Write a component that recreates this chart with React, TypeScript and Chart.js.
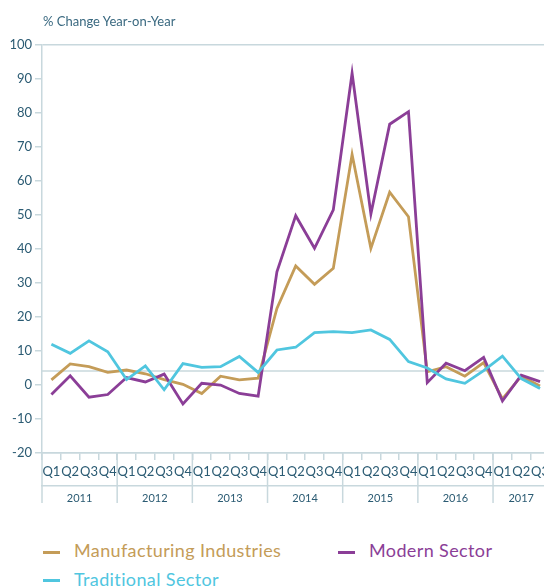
import React, { useEffect, useRef } from "react";
import { Chart, registerables } from "chart.js";

Chart.register(...registerables);

const QUARTERS = [
  "Q1", "Q2", "Q3", "Q4",
  "Q1", "Q2", "Q3", "Q4",
  "Q1", "Q2", "Q3", "Q4",
  "Q1", "Q2", "Q3", "Q4",
  "Q1", "Q2", "Q3", "Q4",
  "Q1", "Q2", "Q3", "Q4",
  "Q1", "Q2", "Q3",
];
const YEARS = ["2011", "2012", "2013", "2014", "2015", "2016", "2017"];
const YEAR_QUARTER_COUNTS = [4, 4, 4, 4, 4, 4, 3];

const MANUFACTURING = [1.5, 6.2, 5.4, 3.7, 4.4, 3.3, 1.6, 0.2, -2.5, 2.6, 1.5, 2.0, 22.5, 35.0, 29.6, 34.3, 67.8, 40.2, 56.7, 49.5, 3.9, 5.4, 2.6, 6.6, -4.1, 2.6, -0.3];
const MODERN = [-2.8, 2.7, -3.6, -2.8, 2.2, 0.9, 3.2, -5.6, 0.5, 0.0, -2.5, -3.3, 33.3, 49.8, 40.2, 51.5, 91.7, 50.3, 76.7, 80.4, 0.7, 6.4, 4.2, 8.1, -4.7, 2.9, 1.0];
const TRADITIONAL = [12.0, 9.3, 13.0, 9.8, 1.6, 5.6, -1.4, 6.3, 5.2, 5.4, 8.4, 3.7, 10.3, 11.1, 15.4, 15.7, 15.4, 16.2, 13.4, 6.9, 5.0, 1.8, 0.5, 4.2, 8.5, 1.9, -1.0];

const REFERENCE_LEVEL = 4.1;
const Y_MIN = -20;
const Y_MAX = 100;
const Y_STEP = 10;

const TITLE = "% Change Year-on-Year";
const SERIES_NAMES = ["Manufacturing Industries", "Modern Sector", "Traditional Sector"];

const GOLD = "#c49c58";
const PURPLE = "#8b3e97";
const CYAN = "#50c6df";
const GRID = "#c8d8dd";
const TEXT = "#2b5b73";
const FONT = "Lato";

export default function App() {
  const canvasRef = useRef<HTMLCanvasElement | null>(null);

  useEffect(() => {
    const canvas = canvasRef.current;
    if (!canvas) return;

    const yearStarts: number[] = [];
    let acc = 0;
    YEAR_QUARTER_COUNTS.forEach((n) => {
      yearStarts.push(acc);
      acc += n;
    });
    const yearCenters = YEAR_QUARTER_COUNTS.map((n, k) => yearStarts[k] + (n - 1) / 2);
    const yearBounds = [...yearStarts.map((s) => s - 0.5), acc - 0.5];

    const refLine = {
      id: "refLine",
      beforeDatasetsDraw(chart: any) {
        const y = chart.scales.y.getPixelForValue(REFERENCE_LEVEL);
        const { left, right } = chart.chartArea;
        const ctx = chart.ctx;
        ctx.save();
        ctx.strokeStyle = GRID;
        ctx.lineWidth = 1.5;
        ctx.beginPath();
        ctx.moveTo(left, y);
        ctx.lineTo(right, y);
        ctx.stroke();
        ctx.restore();
      },
    };

    const yearDividers = {
      id: "yearDividers",
      afterDraw(chart: any) {
        const xs = chart.scales.x2;
        const xq = chart.scales.x;
        const ctx = chart.ctx;
        ctx.save();
        ctx.strokeStyle = GRID;
        ctx.lineWidth = 1.5;
        yearBounds.forEach((b) => {
          const px = xs.getPixelForValue(b);
          ctx.beginPath();
          ctx.moveTo(px, xq.top);
          ctx.lineTo(px, xs.top + 17);
          ctx.stroke();
        });
        ctx.restore();
      },
    };

    Chart.defaults.font.family = FONT;

    const chart = new Chart(canvas, {
      type: "line",
      data: {
        labels: QUARTERS,
        datasets: [
          { label: SERIES_NAMES[2], data: TRADITIONAL, borderColor: CYAN, backgroundColor: CYAN, borderWidth: 2.8, pointRadius: 0, tension: 0 },
          { label: SERIES_NAMES[1], data: MODERN, borderColor: PURPLE, backgroundColor: PURPLE, borderWidth: 2.8, pointRadius: 0, tension: 0 },
          { label: SERIES_NAMES[0], data: MANUFACTURING, borderColor: GOLD, backgroundColor: GOLD, borderWidth: 2.8, pointRadius: 0, tension: 0 },
        ],
      },
      options: {
        responsive: false,
        animation: false,
        events: [],
        layout: { padding: { top: 45, left: 0, right: 0, bottom: 0 } },
        plugins: {
          legend: { display: false },
          title: { display: false },
          tooltip: { enabled: false },
        },
        scales: {
          y: {
            type: "linear",
            min: Y_MIN,
            max: Y_MAX,
            ticks: { stepSize: Y_STEP, color: TEXT, font: { size: 13, family: FONT }, padding: 3 },
            grid: {
              color: (c: any) => (c.tick && (c.tick.value === Y_MAX || c.tick.value === Y_MIN) ? GRID : "rgba(0,0,0,0)"),
              tickColor: GRID,
              tickLength: 7,
              lineWidth: 1.5,
            },
            border: { display: true, color: GRID, width: 1.5 },
            afterFit: (s: any) => {
              s.width = 42;
            },
          },
          x: {
            type: "category",
            offset: true,
            weight: 0,
            ticks: { color: TEXT, font: { size: 13, family: FONT }, padding: 4, autoSkip: false, maxRotation: 0, minRotation: 0 },
            grid: { offset: true, drawOnChartArea: false, tickLength: 7, color: GRID, lineWidth: 1.5 },
            border: { display: true, color: GRID, width: 1.5 },
            afterFit: (s: any) => {
              s.height = 33;
            },
          },
          x2: {
            type: "linear",
            position: "bottom",
            weight: 1,
            min: -0.5,
            max: QUARTERS.length - 0.5,
            afterBuildTicks: (s: any) => {
              s.ticks = yearCenters.map((v) => ({ value: v }));
            },
            ticks: {
              color: TEXT,
              font: { size: 11, family: FONT },
              padding: 6,
              autoSkip: false,
              maxRotation: 0,
              minRotation: 0,
              callback: (_v: any, i: number) => YEARS[i],
            },
            grid: { drawOnChartArea: false, drawTicks: false, color: "rgba(0,0,0,0)" },
            border: { display: true, color: GRID, width: 1.5 },
            afterFit: (s: any) => {
              s.height = 30;
            },
          },
        },
      },
      plugins: [refLine, yearDividers],
    } as any);

    return () => chart.destroy();
  }, []);

  const legendItems = [
    { name: SERIES_NAMES[0], color: GOLD, left: 43, top: 541.3 },
    { name: SERIES_NAMES[1], color: PURPLE, left: 338, top: 541.3 },
    { name: SERIES_NAMES[2], color: CYAN, left: 43, top: 569.6 },
  ];

  return (
    <div style={{ position: "absolute", left: 0, top: 0, width: 544, height: 587, overflow: "hidden", background: "#fff" }}>
      <canvas ref={canvasRef} width={553} height={516} style={{ position: "absolute", left: 0, top: 0, width: 553, height: 516 }} />
      <div
        style={{
          position: "absolute",
          left: 43,
          top: 14.5,
          font: `13px ${FONT}`,
          lineHeight: "13px",
          color: "#3a6980",
          whiteSpace: "nowrap",
        }}
      >
        {TITLE}
      </div>
      {legendItems.map((it) => (
        <div key={it.name} style={{ position: "absolute", left: it.left, top: it.top, height: 18, whiteSpace: "nowrap" }}>
          <span style={{ position: "absolute", left: 0, top: 9.5, width: 17, height: 3, background: it.color }} />
          <span
            style={{
              position: "absolute",
              left: 31,
              top: 0,
              font: `18px ${FONT}`,
              lineHeight: "18px",
              letterSpacing: "0.38px",
              color: it.color,
            }}
          >
            {it.name}
          </span>
        </div>
      ))}
    </div>
  );
}
